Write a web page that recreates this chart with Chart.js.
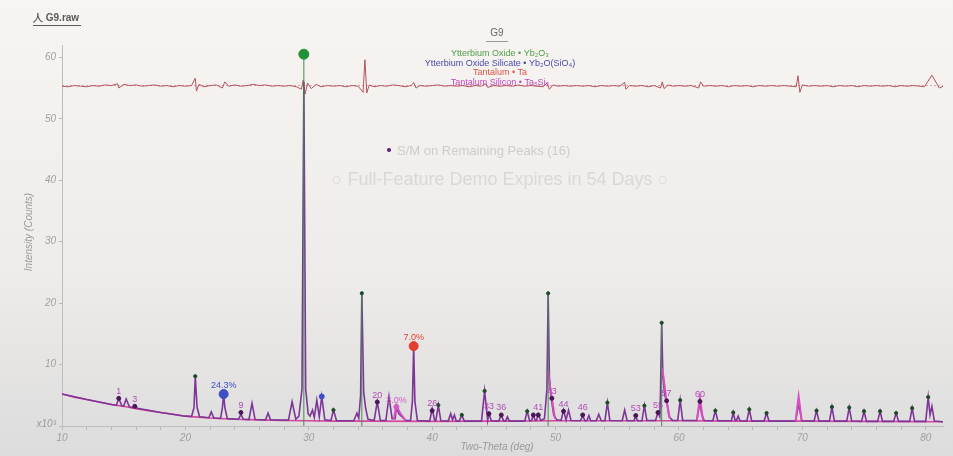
<!DOCTYPE html>
<html>
<head>
<meta charset="utf-8">
<script src="https://cdn.jsdelivr.net/npm/chart.js@4.4.0/dist/chart.umd.min.js"></script>
<style>
  html, body { margin: 0; padding: 0; background: #eceae8; }
  canvas { display: block; }
</style>
</head>
<body>
<canvas id="xrd" width="953" height="456"></canvas>
<script>
// observed pattern: [Two-Theta (deg), Intensity (x10^3 counts)]
const observed = [
  [10.0, 5.2], [12.0, 4.3], [14.0, 3.5], [14.4, 3.35], [14.6, 4.5], [14.85, 3.3], [15.0, 3.25], [15.2, 4.4],
  [15.45, 3.15], [15.7, 3.0], [15.9, 3.3], [16.1, 2.9], [18.0, 2.2], [20.0, 1.6], [20.5, 1.55], [20.7, 3.0],
  [20.8, 8.1], [20.95, 3.0], [21.15, 1.5], [21.9, 1.35], [22.1, 2.3], [22.3, 1.3], [22.85, 1.25], [23.0, 3.0],
  [23.1, 5.2], [23.2, 3.0], [23.4, 1.2], [24.3, 1.1], [24.5, 1.9], [24.7, 1.1], [25.15, 1.05], [25.4, 3.7],
  [25.65, 1.05], [26.5, 1.0], [26.7, 2.1], [26.9, 1.0], [28.35, 0.95], [28.65, 3.95], [28.95, 1.1], [29.2, 1.6],
  [29.45, 6.0], [29.6, 56.0], [29.75, 6.0], [29.95, 2.0], [30.1, 1.6], [30.3, 2.6], [30.45, 1.4], [30.65, 4.2],
  [30.85, 1.5], [31.05, 4.8], [31.3, 1.0], [31.8, 0.9], [32.0, 2.6], [32.25, 0.85], [33.65, 0.85], [33.9, 2.1],
  [34.05, 1.3], [34.2, 5.0], [34.3, 21.6], [34.45, 5.5], [34.6, 3.0], [34.8, 1.1], [35.3, 0.9], [35.55, 3.95],
  [35.8, 0.9], [36.25, 0.9], [36.5, 4.8], [36.75, 1.2], [37.0, 1.2], [37.1, 3.1], [37.3, 2.0], [37.5, 1.6],
  [37.85, 0.9], [38.25, 0.9], [38.4, 4.0], [38.5, 13.0], [38.6, 4.0], [38.8, 0.9], [39.8, 0.8], [40.0, 2.8],
  [40.2, 0.9], [40.3, 0.9], [40.5, 3.4], [40.7, 0.85], [41.3, 0.8], [41.5, 2.0], [41.65, 1.0], [41.8, 1.8],
  [41.95, 0.8], [42.2, 0.8], [42.4, 1.8], [42.6, 0.8], [44.0, 0.8], [44.25, 5.7], [44.5, 0.9], [44.6, 2.0],
  [44.8, 0.85], [45.4, 0.8], [45.6, 1.8], [45.8, 0.8], [45.95, 0.8], [46.1, 1.5], [46.25, 0.8], [47.5, 0.8],
  [47.7, 2.4], [47.9, 0.85], [48.05, 0.85], [48.2, 1.8], [48.35, 0.9], [48.45, 0.9], [48.6, 1.9], [48.8, 0.9],
  [49.1, 1.2], [49.3, 6.0], [49.4, 21.6], [49.5, 8.0], [49.65, 4.5], [49.85, 1.8], [50.1, 1.0], [50.45, 0.9],
  [50.65, 2.6], [50.85, 1.0], [51.05, 2.6], [51.25, 0.9], [52.0, 0.85], [52.2, 1.6], [52.4, 0.85], [52.55, 0.9],
  [52.7, 1.7], [52.85, 0.85], [53.3, 0.85], [53.5, 1.9], [53.7, 0.85], [54.0, 0.85], [54.2, 3.8], [54.4, 0.9],
  [55.4, 0.85], [55.6, 2.6], [55.8, 0.85], [56.35, 0.85], [56.5, 1.6], [56.65, 0.85], [57.0, 0.85], [57.2, 3.3],
  [57.4, 0.9], [58.1, 0.9], [58.3, 2.2], [58.45, 1.5], [58.5, 5.0], [58.6, 16.8], [58.7, 8.0], [58.85, 5.0],
  [59.0, 4.1], [59.2, 1.5], [59.5, 0.9], [59.9, 0.9], [60.1, 4.2], [60.3, 0.9], [61.45, 0.9], [61.7, 4.0],
  [61.85, 1.8], [62.05, 0.9], [62.75, 0.85], [62.95, 2.5], [63.15, 0.85], [64.25, 0.85], [64.4, 2.2], [64.55, 0.9],
  [64.65, 0.9], [64.8, 1.6], [64.95, 0.85], [65.5, 0.8], [65.7, 2.7], [65.9, 0.8], [66.9, 0.8], [67.1, 2.1],
  [67.3, 0.8], [69.45, 0.8], [69.7, 3.6], [69.95, 0.85], [70.95, 0.8], [71.15, 2.5], [71.35, 0.8], [72.2, 0.8],
  [72.4, 3.1], [72.6, 0.8], [73.6, 0.8], [73.8, 3.0], [74.0, 0.8], [74.8, 0.75], [75.0, 2.4], [75.2, 0.75],
  [76.1, 0.75], [76.3, 2.4], [76.5, 0.75], [77.4, 0.75], [77.6, 2.1], [77.8, 0.75], [78.7, 0.75], [78.9, 2.9],
  [79.1, 0.75], [80.0, 0.75], [80.2, 4.7], [80.35, 1.8], [80.5, 3.2], [80.7, 0.8], [81.4, 0.7]
];

// fitted background
const bgTheta = [10, 11, 12, 13, 14, 15, 16, 17, 18, 19, 20, 21, 22, 24, 26, 28, 30, 32, 35, 40, 45, 50, 55, 60, 65, 70, 75, 81.4];
const bgCounts = [5.2, 4.7, 4.3, 3.9, 3.5, 3.2, 2.8, 2.5, 2.2, 1.9, 1.6, 1.45, 1.3, 1.1, 1.0, 0.9, 0.85, 0.8, 0.8, 0.75, 0.8, 0.85, 0.85, 0.85, 0.8, 0.8, 0.75, 0.7];

// calculated profile where it departs from the observed one (null = break)
const calcTheta = [36.9, 37.1, 37.4, 37.85, null, 49.4, 49.5, 49.7, 49.95, null, 58.6, 58.75, 58.95, 59.25, null, 61.45, 61.7, 61.95, null, 69.45, 69.7, 69.95];
const calcCounts = [1.1, 3.4, 2.1, 0.9, null, 9.0, 7.0, 4.6, 1.2, null, 9.5, 8.0, 4.6, 1.3, null, 0.9, 4.6, 1.0, null, 0.8, 4.8, 0.9];

// difference curve, offset to the top of the plot
const diffTheta = [10, 10.5, 11, 11.5, 12, 12.5, 13, 13.5, 14, 14.5, 14.6, 15, 15.5, 16, 16.5, 17, 17.5, 18, 18.5, 19,
  19.5, 20, 20.5, 20.8, 20.9, 21.1, 21.5, 22, 22.5, 23.0, 23.2, 23.5, 24, 24.5, 25, 25.5, 26, 26.5, 27, 27.5,
  28, 28.5, 29.0, 29.4, 29.55, 29.7, 29.9, 30.2, 30.6, 31.0, 31.5, 32, 32.5, 33, 33.5, 34.0, 34.4, 34.55, 34.7, 34.9,
  35.3, 35.8, 36.3, 36.8, 37.3, 37.8, 38.3, 38.5, 38.7, 39.0, 39.5, 40, 40.5, 41, 41.5, 42, 42.5, 43, 43.5, 44,
  44.3, 44.5, 45, 45.5, 46, 46.5, 47, 47.5, 48, 48.5, 49.0, 49.3, 49.5, 49.8, 50.2, 50.7, 51.2, 51.7, 52.2, 52.7,
  53.2, 53.7, 54.2, 54.7, 55.2, 55.6, 55.7, 56.0, 56.5, 57, 57.5, 58.0, 58.5, 58.65, 58.8, 59.1, 59.5, 60, 60.5, 61.0,
  61.6, 61.75, 62.0, 62.5, 63, 63.5, 64, 64.5, 65, 65.5, 66, 66.5, 67, 67.5, 68, 68.5, 69.0, 69.5, 69.65, 69.8,
  70.0, 70.5, 71, 71.5, 72, 72.5, 73, 73.5, 74, 74.5, 75, 75.5, 76, 76.5, 77, 77.5, 78, 78.5, 79, 79.5,
  79.9, 80.5, 81.1, 81.4];
const diffCounts = [55.3, 55.2, 55.4, 55.3, 55.2, 55.4, 55.3, 55.5, 55.4, 55.7, 55.0, 55.6, 55.4, 55.5, 55.3, 55.4, 55.5, 55.3, 55.4, 55.2,
  55.4, 55.3, 55.4, 56.6, 54.5, 55.6, 55.2, 55.4, 55.5, 55.0, 56.0, 55.3, 55.5, 55.3, 55.4, 55.6, 55.4, 55.5, 55.3, 55.4,
  55.3, 55.4, 55.2, 54.8, 56.3, 54.0, 55.8, 54.9, 55.6, 55.2, 55.4, 55.3, 55.4, 55.2, 55.4, 55.3, 54.3, 59.6, 54.2, 55.5,
  55.2, 55.4, 55.3, 55.5, 55.4, 55.2, 55.4, 55.9, 55.0, 55.4, 55.3, 55.4, 55.5, 55.3, 55.4, 55.3, 55.4, 55.2, 55.4, 55.3,
  55.7, 55.1, 55.4, 55.3, 55.4, 55.3, 55.5, 55.3, 55.4, 55.3, 55.2, 55.8, 54.8, 55.5, 55.3, 55.4, 55.3, 55.4, 55.3, 55.4,
  55.2, 55.4, 55.3, 55.4, 55.3, 55.9, 54.8, 55.4, 55.3, 55.4, 55.2, 55.4, 55.0, 56.0, 54.9, 55.5, 55.3, 55.4, 55.3, 55.4,
  55.0, 56.0, 55.3, 55.4, 55.3, 55.4, 55.2, 55.4, 55.3, 55.4, 55.2, 55.4, 55.3, 55.4, 55.3, 55.4, 55.3, 55.2, 57.0, 54.3,
  55.5, 55.3, 55.4, 55.3, 55.4, 55.2, 55.4, 55.3, 55.4, 55.2, 55.4, 55.3, 55.4, 55.3, 55.4, 55.2, 55.4, 55.3, 55.4, 55.3,
  55.2, 57.1, 55.0, 55.3];

// phase markers
const yb2o3Theta = [20.8, 32.0, 34.3, 40.5, 42.4, 44.25, 47.7, 49.4, 54.2, 57.2, 58.6, 60.1, 62.95, 64.4, 65.7, 67.1, 71.15, 72.4, 73.8, 75.0, 76.3, 77.6, 78.9, 80.2];
const yb2o3Counts = [8.1, 2.6, 21.6, 3.4, 1.8, 5.7, 2.4, 21.6, 3.8, 3.3, 16.8, 4.2, 2.5, 2.2, 2.7, 2.1, 2.5, 3.1, 3.0, 2.4, 2.4, 2.1, 2.9, 4.7];
const stickTheta = [29.6, 34.3, 49.4, 58.6];
const stickCounts = [60.5, 21.6, 21.6, 16.8];
const silicateTheta = [23.1, 31.05];
const silicateCounts = [5.2, 4.8];
const tantalumTheta = [38.5];
const tantalumCounts = [13.0];
const taSiTheta = [37.1];
const taSiCounts = [3.1];

const phasePct = [
  { x: 23.1, y: 5.2, text: '24.3%', color: '#3d4fc4' },
  { x: 38.5, y: 13.0, text: '7.0%', color: '#e2402e' },
  { x: 37.1, y: 3.1, text: '3.0%', color: '#d45ac4' }
];

// remaining peak numbers
const peakIds = ['1', '3', '9', '20', '26', '33', '36', '41', '43', '44', '46', '53', '55', '57', '60'];
const peakTheta = [14.6, 15.9, 24.5, 35.55, 40.0, 44.6, 45.6, 48.6, 49.7, 50.65, 52.2, 56.5, 58.3, 59.0, 61.7];
const peakCounts = [4.5, 3.2, 2.2, 3.9, 2.5, 2.0, 1.8, 1.8, 4.5, 2.4, 1.8, 1.7, 2.2, 4.1, 4.0];
const extraDotTheta = [48.2];
const extraDotCounts = [1.8];

const legendLines = [
  { text: 'Ytterbium Oxide \u2022 Yb\u2082O\u2083', color: '#4f9e4a' },
  { text: 'Ytterbium Oxide Silicate \u2022 Yb\u2082O(SiO\u2084)', color: '#4a4aa8' },
  { text: 'Tantalum \u2022 Ta', color: '#d9544a' },
  { text: 'Tantalum Silicon \u2022 Ta\u2085Si\u2083', color: '#c447c0' }
];

const pts = (xs, ys) => xs.map((x, i) => ({ x: x, y: ys[i] }));
const sticks = [];
stickTheta.forEach((t, i) => {
  sticks.push({ x: t, y: 0 }, { x: t, y: stickCounts[i] }, { x: t, y: null });
});
const isInt = v => Math.abs(v - Math.round(v)) < 1e-6;

const FONT = '"Liberation Sans", Arial, sans-serif';

const backdrop = {
  id: 'backdrop',
  beforeDraw(chart) {
    const ctx = chart.ctx;
    const g = ctx.createLinearGradient(0, 0, 0, chart.height);
    g.addColorStop(0, '#f7f4f1');
    g.addColorStop(0.6, '#eeecea');
    g.addColorStop(1, '#dcdcdc');
    ctx.save();
    ctx.fillStyle = g;
    ctx.fillRect(0, 0, chart.width, chart.height);
    ctx.restore();
  }
};

const texts = {
  id: 'texts',
  afterDraw(chart) {
    const ctx = chart.ctx;
    const xs = chart.scales.x, ys = chart.scales.y;
    ctx.save();

    // file name
    ctx.font = 'bold 10px ' + FONT;
    ctx.fillStyle = '#5a5a5a';
    ctx.textBaseline = 'middle';
    ctx.textAlign = 'left';
    ctx.fillText('\u4EBA G9.raw', 33, 18);
    ctx.fillRect(33, 25, 48, 1);

    // title
    ctx.font = '10px ' + FONT;
    ctx.textAlign = 'center';
    ctx.fillStyle = '#666';
    ctx.fillText('G9', 497, 33);
    ctx.fillStyle = '#999';
    ctx.fillRect(486, 41, 22, 1);

    ctx.font = '9px ' + FONT;
    legendLines.forEach((l, i) => {
      ctx.fillStyle = l.color;
      ctx.fillText(l.text, 500, 54 + i * 9.5);
    });

    // watermarks
    ctx.fillStyle = '#5a1a70';
    ctx.beginPath();
    ctx.arc(389, 150, 2, 0, Math.PI * 2);
    ctx.fill();
    ctx.font = '13px ' + FONT;
    ctx.textAlign = 'left';
    ctx.fillStyle = '#cfcbcb';
    ctx.fillText('S/M on Remaining Peaks (16)', 397, 151);
    ctx.font = '18px ' + FONT;
    ctx.textAlign = 'center';
    ctx.fillStyle = '#dad7d6';
    ctx.fillText('\u25CB Full-Feature Demo Expires in 54 Days \u25CB', 500, 180);

    // axis titles
    ctx.font = 'italic 10px ' + FONT;
    ctx.fillStyle = '#9a9a9a';
    ctx.fillText('Two-Theta (deg)', 497, 447);
    ctx.save();
    ctx.translate(29, 232);
    ctx.rotate(-Math.PI / 2);
    ctx.fillText('Intensity (Counts)', 0, 0);
    ctx.restore();
    ctx.textAlign = 'right';
    ctx.fillText('x10\u00B3', 56, 424);

    // phase percentages
    ctx.font = '9px ' + FONT;
    ctx.textAlign = 'center';
    phasePct.forEach(p => {
      ctx.fillStyle = p.color;
      const off = p.text === '3.0%' ? 6 : 9;
      ctx.fillText(p.text, xs.getPixelForValue(p.x), ys.getPixelForValue(p.y) - off);
    });

    // peak numbers
    ctx.font = '9px ' + FONT;
    ctx.fillStyle = '#b24cb8';
    peakIds.forEach((id, i) => {
      ctx.fillText(id, xs.getPixelForValue(peakTheta[i]), ys.getPixelForValue(peakCounts[i]) - 7);
    });
    ctx.restore();
  }
};

new Chart(document.getElementById('xrd'), {
  type: 'scatter',
  data: {
    datasets: [
      { label: 'Ta markers', data: pts(tantalumTheta, tantalumCounts), backgroundColor: '#e2402e', borderColor: '#e2402e', pointRadius: 4.5, order: 0 },
      { label: 'Silicate markers', data: pts(silicateTheta, silicateCounts), backgroundColor: '#3d4fc4', borderColor: '#3d4fc4', pointRadius: [4.5, 2.5], order: 0 },
      { label: 'TaSi markers', data: pts(taSiTheta, taSiCounts), backgroundColor: '#d45ac4', borderColor: '#d45ac4', pointRadius: 2.5, order: 0 },
      { label: 'Big Yb2O3', data: [{ x: stickTheta[0], y: stickCounts[0] }], backgroundColor: '#21913a', borderColor: '#21913a', pointRadius: 5, order: 0 },
      { label: 'Yb2O3 markers', data: pts(yb2o3Theta, yb2o3Counts), backgroundColor: '#1f4a26', borderColor: '#1f4a26', pointRadius: 1.6, order: 0 },
      { label: 'Peak dots', data: pts(peakTheta, peakCounts).concat(pts(extraDotTheta, extraDotCounts)), backgroundColor: '#4a1658', borderColor: '#4a1658', pointRadius: 2, order: 0 },
      { label: 'Sticks', data: sticks, showLine: true, borderColor: '#3f8f4a', borderWidth: 1, pointRadius: 0, spanGaps: false, order: 1 },
      { label: 'Calculated', data: pts(calcTheta, calcCounts), showLine: true, borderColor: '#d84fc0', borderWidth: 2, pointRadius: 0, spanGaps: false, order: 2 },
      { label: 'Observed', data: observed.map(p => ({ x: p[0], y: p[1] })), showLine: true, borderColor: '#7d3597', borderWidth: 1.6, pointRadius: 0, order: 3 },
      { label: 'Background', data: pts(bgTheta, bgCounts), showLine: true, borderColor: '#d9479d', borderWidth: 1.6, pointRadius: 0, order: 4 },
      { label: 'Difference', data: pts(diffTheta, diffCounts), showLine: true, borderColor: '#b8535e', borderWidth: 1, pointRadius: 0, order: 5 },
      { label: 'Zero line', data: [{ x: 10, y: 55.4 }, { x: 81.4, y: 55.4 }], showLine: true, borderColor: 'rgba(200,130,140,0.7)', borderWidth: 1, borderDash: [2, 2], pointRadius: 0, order: 6 }
    ]
  },
  options: {
    responsive: false,
    animation: false,
    devicePixelRatio: 1,
    layout: { padding: { top: 45, right: 10, bottom: 0, left: 0 } },
    plugins: { legend: { display: false }, tooltip: { enabled: false } },
    scales: {
      x: {
        type: 'linear',
        min: 10,
        max: 81.4,
        afterFit: s => { s.height = 30; },
        afterBuildTicks: s => { s.ticks = s.ticks.filter(t => isInt(t.value) && Math.round(t.value) % 2 === 0); },
        ticks: {
          stepSize: 2,
          includeBounds: false,
          autoSkip: false,
          maxRotation: 0,
          padding: 2,
          color: '#a0a0a0',
          font: { family: FONT, size: 10, style: 'italic' },
          callback: v => (Math.round(v) % 10 === 0 ? Math.round(v) : '')
        },
        grid: { drawOnChartArea: false, tickLength: 4, color: '#b8b8b8' },
        border: { color: '#bdbdbd' }
      },
      y: {
        min: 0,
        max: 62,
        afterFit: s => { s.width = 62; },
        afterBuildTicks: s => { s.ticks = s.ticks.filter(t => isInt(t.value) && Math.round(t.value) % 10 === 0); },
        ticks: {
          stepSize: 10,
          includeBounds: false,
          padding: 3,
          color: '#a0a0a0',
          font: { family: FONT, size: 10, style: 'italic' },
          callback: v => (v === 0 ? '' : v)
        },
        grid: { drawOnChartArea: false, tickLength: 3, color: '#b8b8b8' },
        border: { color: '#bdbdbd' }
      }
    }
  },
  plugins: [backdrop, texts]
});
</script>
</body>
</html>
